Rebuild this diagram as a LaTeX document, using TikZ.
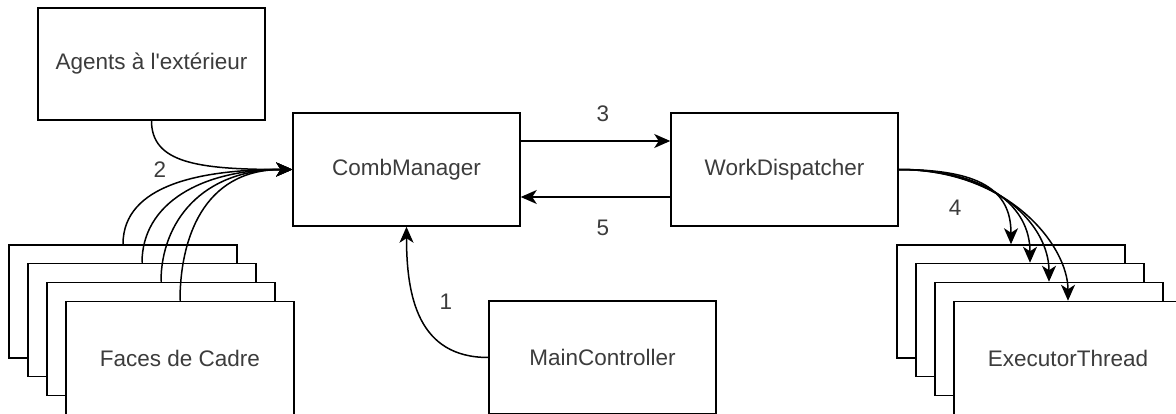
\documentclass[tikz,border=0pt]{standalone}
\usepackage{fontspec}
\setmainfont{Liberation Sans}[Ligatures=TeXOff]
\usetikzlibrary{arrows.meta}
\definecolor{txt}{RGB}{60,60,60}
\begin{document}
\begin{tikzpicture}[x=1pt,y=-1pt,
  box/.style={draw=black,line width=1.5pt,fill=white,minimum width=227pt,minimum height=113pt,inner sep=0pt,text=txt,font=\fontsize{22.5}{27}\selectfont},
  conn/.style={draw=black,line width=1.5pt,-{Stealth[length=16pt,width=14pt,inset=4.5pt]}},
  lbl/.style={text=txt,font=\fontsize{22.5}{27}\selectfont,inner sep=0pt}]
\useasboundingbox (0,0) rectangle (1176,414);
% boxes
\node[box,minimum height=112pt] (agents) at (151.5,64) {Agents à l'extérieur};
\node[box] (comb) at (406.5,169.5) {CombManager};
\node[box] (wd) at (784.5,169.5) {WorkDispatcher};
\node[box] (main) at (602.5,357.5) {MainController};
% faces stack
\node[box,minimum width=228pt] (f1) at (123,301.5) {};
\node[box,minimum width=228pt] (f2) at (142,320) {};
\node[box,minimum width=228pt] (f3) at (161,339) {};
\node[box,minimum width=228pt] (f4) at (180,358) {Faces de Cadre};
% executor stack
\node[box,minimum width=228pt] (e1) at (1011,301.5) {};
\node[box,minimum width=228pt] (e2) at (1030,320) {};
\node[box,minimum width=228pt] (e3) at (1049,339) {};
\node[box,minimum width=228pt] (e4) at (1068,358) {ExecutorThread};
% connectors
\draw[conn] (agents.south) .. controls ++(0,42) and ++(-95,0) .. (comb.west);
\foreach \f in {f1,f2,f3,f4}{
  \draw[conn] (\f.north) .. controls ++(0,-60) and ++(-90,0) .. (comb.west);
}
\draw[conn] (main.west) .. controls ++(-70,0) and ++(0,70) .. (comb.south);
\draw[conn] ([yshift=28.5pt]comb.east) -- ([yshift=28.5pt]wd.west);
\draw[conn] ([yshift=-27.5pt]wd.west) -- ([yshift=-27.5pt]comb.east);
\foreach \e/\d in {e1/80,e2/90,e3/100,e4/110}{
  \draw[conn] (wd.east) .. controls ++(\d,0) and ++(0,-55) .. (\e.north);
}
% labels
\node[lbl] (l2) at (160,170) {2};
\node[lbl] (l3) at (603,114) {3};
\node[lbl] (l5) at (603,228) {5};
\node[lbl] (l1) at (446,302) {1};
\node[lbl] (l4) at (955,208) {4};
\end{tikzpicture}
\end{document}
